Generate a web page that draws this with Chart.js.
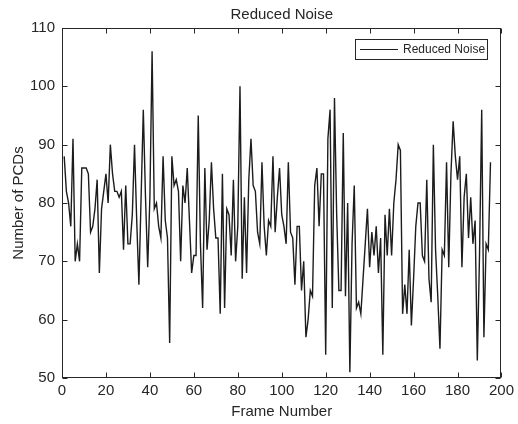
<!DOCTYPE html>
<html>
<head>
<meta charset="utf-8">
<script src="https://cdn.jsdelivr.net/npm/chart.js@4/dist/chart.umd.min.js"></script>
<style>
  html, body { margin: 0; padding: 0; background: #fff; }
  canvas { display: block; }
</style>
</head>
<body>
<canvas id="noiseChart" width="518" height="424"></canvas>
<script>
// 數據：每個影格的 PCD 數量
const seriesLabel = 'Reduced Noise';
const pcdCounts = [
  88, 82, 80, 76, 91, 70, 73, 70, 86, 86, 86, 85, 75, 76, 79, 84, 68, 79, 82, 85, 80, 90,
  85, 82, 82, 81, 82, 72, 83, 73, 73, 78, 90, 77, 66, 81, 96, 81, 69, 81, 106,
  79, 80, 76, 74, 88, 77, 74, 56, 88, 83, 84, 82, 70, 83, 80, 86, 77, 68, 71, 71, 95, 73, 62, 86,
  72, 77, 87, 79, 74, 74, 61, 85, 62, 79, 78, 71, 84, 70, 76, 100, 67, 81, 68, 84, 91, 83,
  82, 75, 73, 87, 76, 71, 77, 76, 88, 75, 81, 86, 78, 76, 73, 87, 75, 74, 66, 76, 76, 65, 70, 57,
  60, 65, 64, 83, 86, 76, 85, 85, 54, 91, 96, 62, 98, 78, 65, 65, 92, 64, 80,
  51, 73, 83, 62, 63, 61, 67, 73, 79, 69, 75, 71, 76, 68, 74, 54, 78, 71, 79, 71, 80, 84,
  90, 89, 61, 66, 61, 72, 59, 67, 76, 80, 80, 71, 70, 84, 67, 63, 90, 72, 64, 55,
  72, 71, 87, 69, 85, 94, 88, 84, 88, 69, 81, 85, 74, 81, 73, 77, 53, 71, 96, 57, 73, 72, 87
];
const xTicks = [0, 20, 40, 60, 80, 100, 120, 140, 160, 180, 200];
const yTicks = [50, 60, 70, 80, 90, 100, 110];

const INK = '#262626';
const FONT = '"Liberation Sans", Arial, Helvetica, sans-serif';

// 影格編號從 1 開始
const points = pcdCounts.map((v, i) => ({ x: i + 1, y: v }));

// 畫外框與向內的刻度線（上下左右都有）
const axesBox = {
  id: 'axesBox',
  afterDatasetsDraw(chart) {
    const { ctx, chartArea: a, scales: { x, y } } = chart;
    const len = 5;
    ctx.save();
    ctx.strokeStyle = INK;
    ctx.lineWidth = 1;
    const L = Math.round(a.left) + 0.5, R = Math.round(a.right) - 0.5;
    const T = Math.round(a.top) + 0.5, B = Math.round(a.bottom) - 0.5;
    ctx.strokeRect(L, T, R - L, B - T);
    ctx.beginPath();
    xTicks.forEach(v => {
      const px = Math.round(x.getPixelForValue(v)) + 0.5;
      ctx.moveTo(px, B); ctx.lineTo(px, B - len);
      ctx.moveTo(px, T); ctx.lineTo(px, T + len);
    });
    yTicks.forEach(v => {
      const py = Math.round(y.getPixelForValue(v)) + 0.5;
      ctx.moveTo(L, py); ctx.lineTo(L + len, py);
      ctx.moveTo(R, py); ctx.lineTo(R - len, py);
    });
    ctx.stroke();
    ctx.restore();
  }
};

// 右上角的圖例方框
const boxLegend = {
  id: 'boxLegend',
  afterDraw(chart) {
    const { ctx, chartArea: a } = chart;
    const ds = chart.data.datasets[0];
    ctx.save();
    ctx.font = '12px ' + FONT;
    const tw = ctx.measureText(ds.label).width;
    const w = Math.round(50 + tw), h = 20;
    const x0 = Math.round(a.right) - 14 - w, y0 = Math.round(a.top) + 11;
    ctx.fillStyle = '#fff';
    ctx.fillRect(x0, y0, w, h);
    ctx.strokeStyle = INK;
    ctx.lineWidth = 1;
    ctx.strokeRect(x0 + 0.5, y0 + 0.5, w, h);
    ctx.beginPath();
    ctx.strokeStyle = ds.borderColor;
    ctx.lineWidth = 1;
    ctx.moveTo(x0 + 5, y0 + h / 2 + 0.5);
    ctx.lineTo(x0 + 43, y0 + h / 2 + 0.5);
    ctx.stroke();
    ctx.fillStyle = INK;
    ctx.textBaseline = 'middle';
    ctx.fillText(ds.label, x0 + 48, y0 + h / 2 + 1);
    ctx.restore();
  }
};

new Chart(document.getElementById('noiseChart'), {
  type: 'line',
  data: {
    datasets: [{
      label: seriesLabel,
      data: points,
      borderColor: '#1c1c1c',
      borderWidth: 1.4,
      pointRadius: 0,
      tension: 0,
      fill: false
    }]
  },
  options: {
    responsive: false,
    animation: false,
    layout: { padding: { left: 0, right: 14, top: 0, bottom: 0 } },
    plugins: {
      legend: { display: false },
      tooltip: { enabled: false },
      title: {
        display: true,
        text: 'Reduced Noise',
        fullSize: false,
        color: INK,
        font: { family: FONT, size: 15, weight: 'normal' },
        padding: { top: 6, bottom: 4 }
      }
    },
    scales: {
      x: {
        type: 'linear',
        min: 0,
        max: 200,
        grid: { display: false, drawTicks: false },
        border: { display: false },
        afterBuildTicks: s => { s.ticks = xTicks.map(v => ({ value: v })); },
        afterFit: s => { s.height = 46; },
        ticks: { color: INK, padding: 4, maxRotation: 0, autoSkip: false, font: { family: FONT, size: 15 } },
        title: { display: true, text: 'Frame Number', color: INK, font: { family: FONT, size: 15 }, padding: { top: 0, bottom: 3 } }
      },
      y: {
        min: 50,
        max: 110,
        grid: { display: false, drawTicks: false },
        border: { display: false },
        afterBuildTicks: s => { s.ticks = yTicks.map(v => ({ value: v })); },
        afterFit: s => { s.width = 62; },
        ticks: { color: INK, padding: 7, autoSkip: false, font: { family: FONT, size: 15 } },
        title: { display: true, text: 'Number of PCDs', color: INK, font: { family: FONT, size: 15 }, padding: { top: 10, bottom: 0 } }
      }
    }
  },
  plugins: [axesBox, boxLegend]
});
</script>
</body>
</html>
